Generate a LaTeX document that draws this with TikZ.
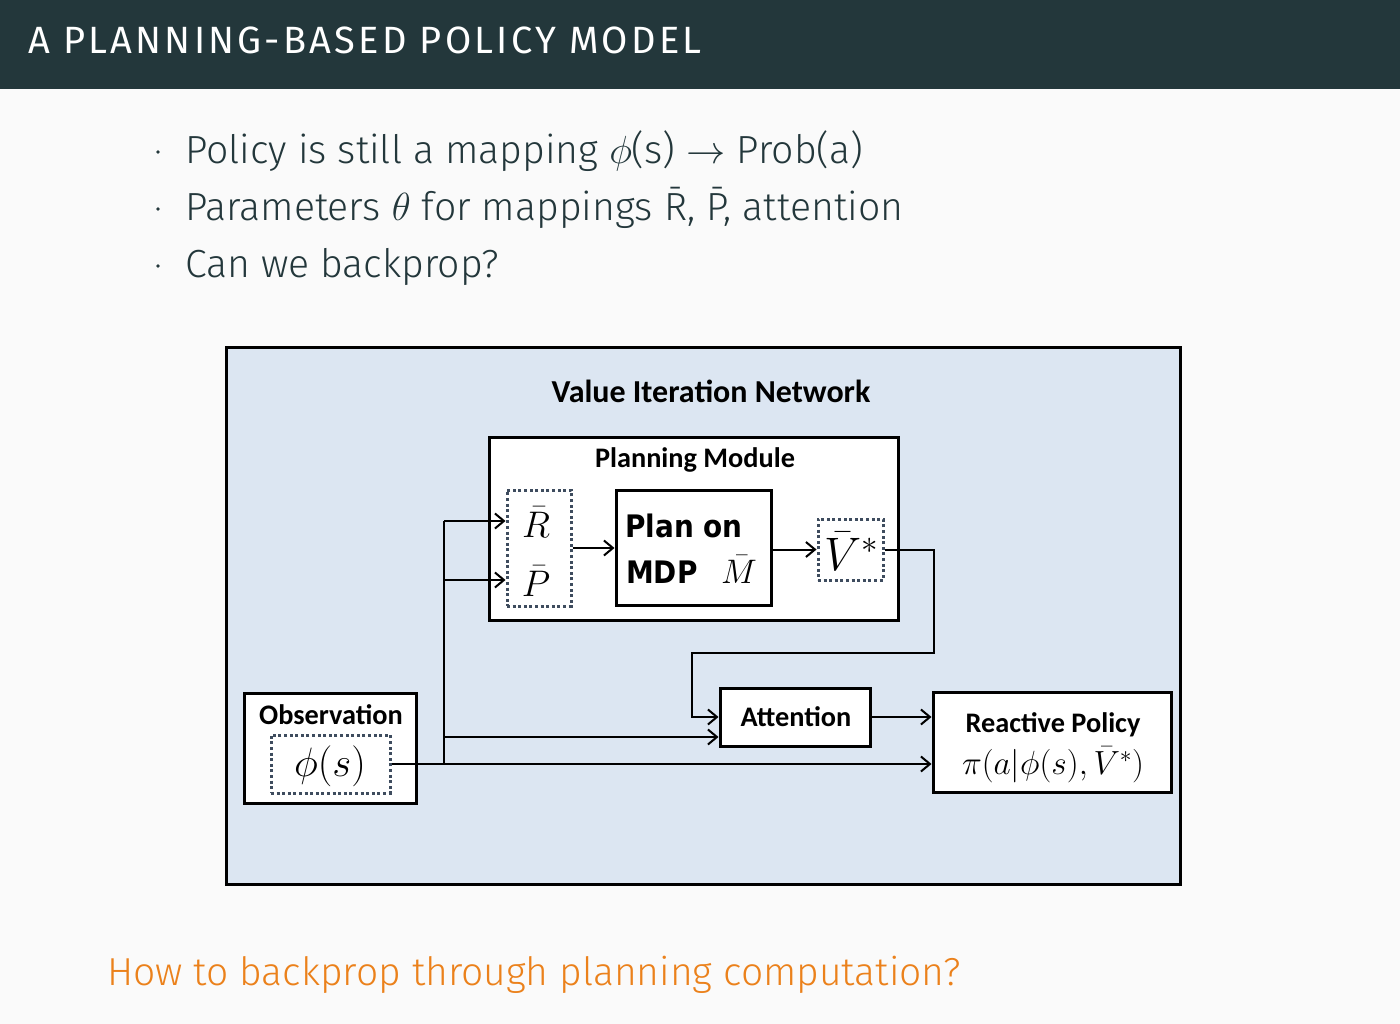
\RequirePackage{fix-cm}
\documentclass[tikz,border=0pt]{standalone}
\usepackage{amsmath}
\usepackage{fontspec}
\setmainfont{Fira Sans Light}
\newfontfamily\firareg[LetterSpace=8.5]{Fira Sans}
\newfontfamily\calib{Carlito}
\newfontfamily\dvs{DejaVu Sans}
\usetikzlibrary{arrows.meta,calc}
\definecolor{hdr}{HTML}{23373B}
\definecolor{pagebg}{HTML}{FAFAFA}
\definecolor{vinblue}{HTML}{DCE6F2}
\definecolor{dotc}{HTML}{3E4C5E}
\definecolor{alert}{HTML}{EB811B}
\definecolor{bodyc}{HTML}{23373B}
\tikzset{
  box/.style={draw=black, line width=3pt, fill=white, inner sep=0pt},
  dotbox/.style={draw=dotc, line width=3pt, dash pattern=on 3pt off 2.6pt, inner sep=0pt},
  lbl/.style={font=\calib\bfseries\fontsize{28.3}{32}\selectfont, inner sep=0pt},
  conn/.style={line width=2pt, -{Straight Barb[length=9pt,width=15pt,line width=2pt]}},
  wire/.style={line width=2pt},
  bullettext/.style={anchor=base west, inner sep=0pt, text=bodyc, font=\fontsize{39.2}{46}\selectfont},
  bdot/.style={circle, fill=bodyc, inner sep=0pt, minimum size=3.6pt}
}
\begin{document}
\begin{tikzpicture}[x=1pt,y=-1pt]
\useasboundingbox (0,0) rectangle (1400,1024);
\fill[pagebg] (0,0) rectangle (1400,1024);
\fill[hdr] (0,0) rectangle (1400,89);
\node[anchor=base west, inner sep=0pt, text=white, font=\firareg\fontsize{38}{46}\selectfont] (title) at (28,54) {A PLANNING-BASED POLICY MODEL};

% bullets
\node[bdot] (d1) at (158,152) {};
\node[bdot] (d2) at (158,209) {};
\node[bdot] (d3) at (158,266) {};
\node[bullettext] (b1) at (185,164) {Policy is still a mapping $\phi$(s) $\rightarrow$ Prob(a)};
\node[bullettext] (b2) at (185,221) {Parameters $\theta$ for mappings \={R}, \={P}, attention};
\node[bullettext] (b3) at (185,278) {Can we backprop?};

% diagram
\node[box, fill=vinblue, minimum width=954pt, minimum height=537pt] (vin) at (703,615.5) {};
\node[font=\calib\bfseries\fontsize{32}{36}\selectfont, inner sep=0pt] (vint) at (711,391) {Value Iteration Network};

\node[box, minimum width=409pt, minimum height=183pt] (pm) at (693.5,528.5) {};
\node[lbl] (pmt) at (695,460) {Planning Module};

\node[dotbox, minimum width=64pt, minimum height=116pt] (rp) at (539,548) {};
\node[inner sep=0pt, font=\fontsize{37}{40}\selectfont] (rt) at (536,522) {$\bar{R}$};
\node[inner sep=0pt, font=\fontsize{37}{40}\selectfont] (pt) at (536,581) {$\bar{P}$};

\node[box, minimum width=155pt, minimum height=115pt] (plan) at (693.5,547.5) {};
\node[inner sep=0pt, xscale=0.9, anchor=base west, font=\dvs\bfseries\fontsize{31}{46}\selectfont] (plant1) at (625,537) {Plan on};
\node[inner sep=0pt, xscale=0.9, anchor=base west, font=\dvs\bfseries\fontsize{31}{46}\selectfont] (plant2) at (626,583) {MDP};
\node[inner sep=0pt, anchor=base west, font=\fontsize{34}{40}\selectfont] (mbar) at (721,583) {$\bar{M}$};

\node[dotbox, minimum width=65pt, minimum height=61pt] (vbox) at (850.5,549.5) {};
\node[inner sep=0pt, font=\fontsize{47}{50}\selectfont] (vt) at (851,551) {$\bar{V}^{*}$};

\node[box, minimum width=150pt, minimum height=58pt] (att) at (795,717) {};
\node[lbl] (attt) at (796,717) {Attention};

\node[box, minimum width=238pt, minimum height=100pt] (rea) at (1052,742) {};
\node[lbl] (reat) at (1053,725) {Reactive Policy};
\node[inner sep=0pt, font=\fontsize{33.5}{36}\selectfont] (reaf) at (1053,765) {$\pi(a|\phi(s),\bar{V}^{*})$};

\node[box, minimum width=172pt, minimum height=110pt] (obs) at (330,748) {};
\node[lbl] (obst) at (331,715) {Observation};
\node[dotbox, minimum width=119pt, minimum height=58pt] (phi) at (330.5,764) {};
\node[inner sep=0pt, font=\fontsize{41}{44}\selectfont] (phit) at (330,766) {$\phi(s)$};

% connectors
\coordinate (j) at (444,764);
\coordinate (jr) at (444,521);
\coordinate (jp) at (444,580);
\coordinate (ja) at (444,737);
\coordinate (k1) at (934,653);
\coordinate (k2) at (692,653);

\draw[conn] (rp.east) -- (plan.west |- rp.east);
\draw[conn] (plan.east |- vbox.west) -- (vbox.west);
\draw[conn] (vbox.east) -| (k1) -- (k2) |- (att.west);
\draw[conn] (att.east) -- (att.east -| rea.west);
\draw[conn] (phi.east) -- (phi.east -| rea.west);
\draw[wire] (j) -- (jr);
\draw[conn] (jr) -- (jr -| rp.west);
\draw[conn] (jp) -- (jp -| rp.west);
\draw[conn] (ja) -- (ja -| att.west);

% bottom question
\node[anchor=base west, inner sep=0pt, text=alert, font=\fontsize{39}{46}\selectfont] (q) at (107,985) {How to backprop through planning computation?};
\end{tikzpicture}
\end{document}
